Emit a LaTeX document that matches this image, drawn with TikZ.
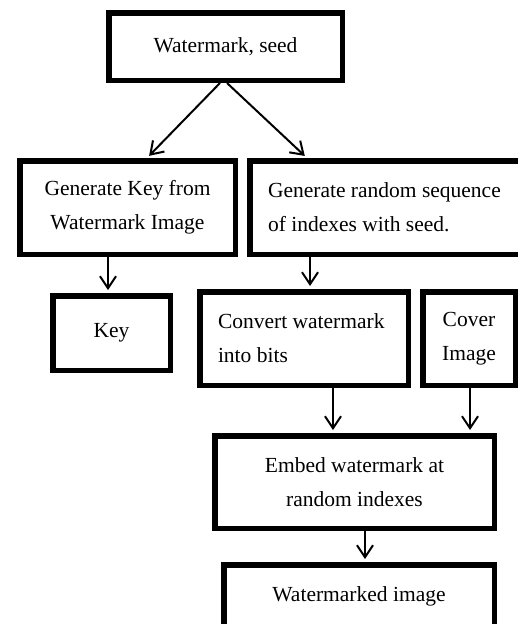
\documentclass[tikz,border=0pt]{standalone}
\usepackage{fontspec}
\setmainfont{Liberation Serif}
\usetikzlibrary{arrows.meta}
\begin{document}
\begin{tikzpicture}[x=1pt,y=-1pt,
  txt/.style={font=\fontsize{21.5}{34}\selectfont},
  box/.style={txt, draw, line width=5.5pt, inner sep=0pt, align=center},
  lbox/.style={txt, draw, line width=5.5pt, inner xsep=18.25pt, inner ysep=0pt, align=flush left},
  arr/.style={line width=2pt, shorten >=3pt, -{Straight Barb[length=12pt,width=16pt,line width=2pt]}}]
\clip (0,0) rectangle (518,624);
\fill[white] (0,0) rectangle (518,624);
\node[box, minimum width=233.5pt, minimum height=67.5pt] (b1) at (225.5,46.5) {Watermark, seed};
\node[box, minimum width=215.5pt, minimum height=93.5pt] (b2) at (127.5,207.5) {Generate Key from\\Watermark Image};
\node[lbox, text width=239pt, minimum height=93.5pt] (b3) at (387.5,207.5) {Generate random sequence\\of indexes with seed.};
\node[box, minimum width=117.5pt, minimum height=74.5pt] (b4) at (111.5,333) {\raisebox{5pt}{Key}};
\node[lbox, text width=172pt, minimum height=93.5pt] (b5) at (304,338.5) {Convert watermark\\into bits};
\node[box, minimum width=92.5pt, minimum height=93.5pt] (b6) at (469,338.5) {Cover\\Image};
\node[box, minimum width=279.5pt, minimum height=92.5pt] (b7) at (354.5,482) {Embed watermark at\\random indexes};
\node[box, minimum width=270.5pt, minimum height=62.5pt] (b8) at (359,596) {Watermarked image};
\draw[arr] ([xshift=-5.5pt]b1.south) -- ([xshift=19.5pt]b2.north);
\draw[arr] ([xshift=1.5pt]b1.south) -- ([xshift=-80.5pt]b3.north);
\draw[arr] ([xshift=-19.5pt]b2.south) -- ([xshift=-3.5pt]b4.north);
\draw[arr] ([xshift=-77.5pt]b3.south) -- ([xshift=6pt]b5.north);
\draw[arr] ([xshift=29pt]b5.south) -- ([xshift=-21.5pt]b7.north);
\draw[arr] ([xshift=1pt]b6.south) -- ([xshift=115.5pt]b7.north);
\draw[arr] ([xshift=10.5pt]b7.south) -- ([xshift=6pt]b8.north);
\end{tikzpicture}
\end{document}
